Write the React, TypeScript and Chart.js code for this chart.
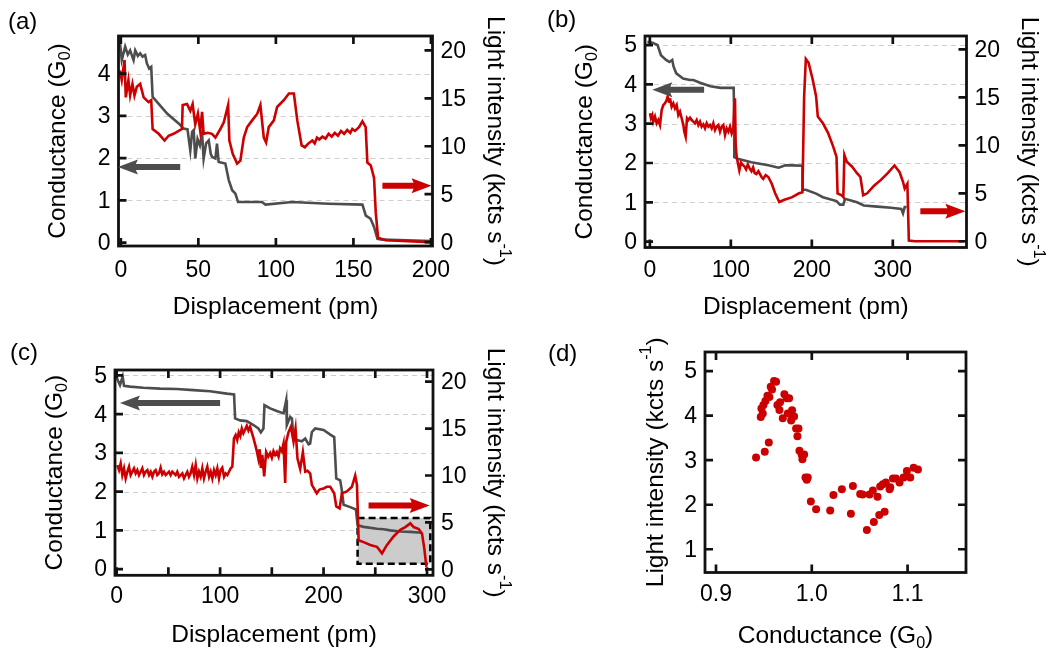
import React, { useEffect, useRef } from 'react';
import { Chart, registerables } from 'chart.js';
Chart.register(...registerables);

// ---------------- data: panel (a) ----------------
const aGrayX = [-0.6, 0.6, 2.8, 4.5, 6, 8.2, 9.3, 11, 12.5, 14, 15.7, 16.8, 18.3, 19.6, 20.5, 23.3, 30, 37.3, 40.5, 43, 44.8, 46, 47, 48, 49.5, 51, 52.4, 53.4, 55, 56.7, 58, 58.8, 61, 62, 63.1, 67.4, 69.6, 71.8, 73.9, 75.6, 91, 93.3, 110.5, 134, 155.8, 158, 161, 163.3, 165.5, 168.7, 200];
const aGrayG = [4.75, 4.32, 4.64, 4.45, 4.55, 4.32, 4.55, 4.42, 4.48, 4.40, 4.44, 4.24, 4.12, 4.16, 3.45, 3.33, 3.05, 2.82, 2.70, 2.68, 2.18, 2.62, 2.66, 1.99, 2.45, 2.30, 2.58, 1.99, 2.35, 2.42, 2.10, 2.03, 1.99, 2.34, 1.91, 1.87, 1.48, 1.24, 1.16, 0.96, 0.96, 0.90, 0.96, 0.92, 0.90, 0.64, 0.57, 0.37, 0.09, 0.07, 0.04];
const aRedX = [-0.6, 0.6, 2.4, 3.2, 4.9, 6, 7.5, 8.8, 10.3, 12.5, 14.7, 17.9, 19.6, 20.5, 24.4, 28.2, 30.8, 34, 37.3, 39.4, 39.9, 42.7, 44.8, 46.3, 48, 49.7, 51.2, 52.4, 53.4, 56, 58.8, 61, 64.2, 66.4, 69.2, 70, 72.2, 75, 77.1, 79.3, 81.5, 84.7, 88, 90, 92.2, 93.7, 95.4, 98.7, 100.8, 105.1, 108.4, 111.6, 113.8, 116.6, 118.7, 121, 123.5, 125, 126.5, 128, 130, 132, 134, 136, 138, 140, 142, 144, 146, 148, 149.3, 151, 153.6, 155.8, 157.9, 159, 161.2, 163.3, 164.4, 165.9, 170.9, 185, 198.9];
const aRedI = [17.9, 16.9, 19.0, 15.1, 16.9, 15.3, 16.5, 15.3, 16.2, 16.5, 15.1, 14.6, 14.8, 11.8, 11.3, 10.6, 11.1, 11.3, 11.6, 11.8, 14.3, 14.4, 13.7, 14.4, 12.3, 13.4, 11.6, 13.6, 11.3, 11.4, 11.3, 10.9, 11.8, 12.5, 14.3, 10.6, 9.2, 8.2, 8.5, 10.9, 12.0, 12.7, 13.4, 14.3, 10.9, 10.4, 12.0, 12.7, 14.1, 14.8, 15.5, 15.5, 12.7, 10.1, 9.9, 10.3, 10.6, 10.3, 10.9, 10.7, 11.0, 10.8, 11.3, 11.0, 11.4, 11.1, 11.6, 11.3, 11.7, 11.4, 11.8, 11.6, 12.0, 12.6, 12.0, 8.3, 8.0, 6.7, 3.1, 0.45, 0.2, 0.1, 0.0];
const aXTicks = [0, 50, 100, 150, 200];
const aXLabels = [0, 50, 100, 150, 200];
const aYTicks = [0, 1, 2, 3, 4];
const aY1Ticks = [0, 5, 10, 15, 20];
const aGrid = [1, 2, 3, 4];
const aArrowGray = [38.3, -1.9, 1.79]; // tail x, tip x, conductance
const aArrowRed = [168.7, 200.4, 5.88]; // tail x, tip x, intensity

// ---------------- data: panel (b) ----------------
const bGrayX = [-3, 3.2, 9.5, 13.7, 20, 24.2, 27.6, 29.3, 32.6, 41, 49.5, 53.7, 62, 74.7, 87.4, 103.5, 104, 104.3, 108.4, 125.3, 146.3, 159, 167.4, 175.8, 188.4, 188.6, 192.6, 205.3, 213.7, 230.5, 234.7, 238.9, 241, 255.8, 264.2, 281, 297.9, 310.5, 312.6, 314.7, 317];
const bGrayG = [5.08, 5.06, 5.0, 4.74, 4.62, 4.57, 4.62, 4.45, 4.28, 4.15, 4.11, 4.11, 4.04, 3.95, 3.91, 3.91, 3.34, 2.15, 2.11, 2.02, 1.94, 1.88, 1.94, 1.94, 1.93, 1.32, 1.32, 1.22, 1.13, 1.03, 0.94, 0.94, 1.09, 1.0, 0.92, 0.89, 0.86, 0.83, 0.72, 0.88, 0.88];
const bRedX = [0.17, 1.41, 3.06, 4.29, 6.35, 8.41, 10.46, 12.52, 14.58, 16.64, 18.7, 20.75, 21.99, 23.64, 24.87, 26.93, 28.99, 31.04, 33.1, 35.16, 37.22, 39.28, 41.33, 42.57, 44.22, 45.86, 47.51, 49.57, 51.62, 53.68, 55.74, 57.8, 59.86, 61.91, 63.97, 66.03, 68.09, 70.15, 72.2, 74.26, 76.32, 78.38, 80.44, 82.49, 84.55, 86.61, 88.67, 90.73, 92.78, 94.84, 96.9, 98.96, 101.0, 103.1, 104.3, 105.1, 106.0,
  107.2, 108.4, 110.5, 112.6, 114.5, 116.8, 118.8, 121, 123.2, 125.5, 127.5, 129.5, 131.5, 134, 137.9, 140, 143, 146.3, 150.5, 154.7, 159.8, 165.3, 175.8, 184.2, 188.4, 190.5, 192.6, 196, 201, 205.3, 207.4, 213.7, 220, 226.3, 230.5, 231.8, 236.8, 238.9, 240.2, 243.2, 249.5, 255.8, 260, 263.4, 268.4, 276.8, 285.3, 293.7, 302.1, 308.4, 312.6, 314.7, 318, 319.8, 327.4, 388];
const bRedI = [13.34, 12.82, 13.16, 12.47, 12.99, 12.3, 12.64, 12.12, 13.68, 14.2, 14.38, 14.73, 15.07, 14.55, 14.9, 14.03, 14.38, 13.86, 14.2, 13.16, 13.51, 12.82, 12.12, 11.43, 10.9, 12.82, 12.64, 12.88, 12.64, 12.47, 12.3, 12.64, 12.12, 12.47, 11.95, 12.19, 11.77, 12.3, 11.95, 12.12, 11.77, 12.3, 11.6, 11.95, 12.12, 11.43, 11.95, 12.12, 11.08, 11.77, 11.43, 11.95, 11.25, 11.77, 14.2, 14.9, 10.04,
  8.8, 8.3, 7.4, 8.2, 8.0, 7.8, 7.5, 8.0, 7.6, 7.3, 7.7, 7.1, 7.0, 7.3, 6.7, 6.5, 6.9, 6.7, 6.0, 5.0, 4.1, 4.3, 4.6, 5.0, 5.1, 15.1, 19.0, 18.6, 16.9, 15.1, 13.0, 12.3, 11.3, 9.9, 8.8, 5.0, 4.8, 4.6, 9.0, 8.3, 7.8, 7.1, 6.7, 4.8, 5.0, 5.8, 6.4, 7.1, 7.9, 7.2, 6.2, 5.5, 6.0, 0.07, 0.0, 0.0];
const bXTicks = [0, 100, 200, 300];
const bXLabels = [0, 100, 200, 300];
const bYTicks = [0, 1, 2, 3, 4, 5];
const bY1Ticks = [0, 5, 10, 15, 20];
const bGrid = [1, 2, 3, 4, 5];
const bArrowGray = [67, 3, 3.86];
const bArrowRed = [334, 389.6, 3.13];

// ---------------- data: panel (c) ----------------
const cGrayX = [-0.6, 1.6, 3.2, 5.8, 7.1, 12.9, 25.8, 41.9, 58, 74.2, 90.3, 106.5, 113.5, 114.5, 119.4, 125.8, 132.3, 137, 139.4, 141.9, 142.9, 148.4, 154.8, 161.3, 163.9, 164.5, 167.7, 169.4, 171, 174.2, 179, 182.3, 185.5, 187, 188.7, 191.9, 200, 206.5, 210.3, 212.3, 216.1, 217.7, 219.4, 225.8, 231.3, 232.9, 238.7, 251.6, 258, 264.5, 274.2, 283.9, 295.2];
const cGrayG = [5.0, 4.84, 4.75, 4.97, 4.73, 4.71, 4.68, 4.66, 4.65, 4.62, 4.59, 4.53, 4.51, 3.89, 3.84, 3.82, 3.72, 3.63, 3.53, 3.63, 4.23, 4.15, 4.08, 4.02, 4.36, 3.72, 3.93, 3.89, 3.37, 3.33, 3.30, 3.37, 3.22, 3.24, 3.54, 3.63, 3.59, 3.47, 3.41, 2.34, 2.29, 2.03, 1.66, 1.60, 1.54, 1.13, 1.09, 1.04, 1.03, 1.0, 0.97, 0.96, 0.94];
const cRedX = [0.65, 2.26, 3.87, 5.49, 7.1, 8.71, 10.32, 11.93, 13.54, 15.15, 16.76, 18.37, 19.98, 21.6, 23.2, 24.8, 26.4, 28.0, 29.7, 31.3, 32.9, 34.5, 36.1, 37.7, 39.3, 40.9, 42.5, 44.1, 45.8, 47.4, 49.0, 50.6, 52.2, 53.8, 55.4, 57.0, 58.6, 60.3, 61.9, 63.5, 65.1, 66.7, 68.3, 69.9, 71.5, 73.1, 74.8, 76.4, 78.0, 79.6, 81.2, 82.8, 84.4, 86.0, 87.6, 89.3, 90.9, 92.5, 94.1, 95.7, 97.3, 98.9, 100.5, 102.1, 103.8, 105.4, 107.0, 108.6, 110.2, 111.8,
  113.4, 115, 116.5, 118, 119.5, 121, 122.5, 124.2, 125.8, 127.4, 129, 130.6, 132, 133.9, 135.5, 137, 138.2, 139.4, 140.8, 142.6, 144.5, 146.5, 148.4, 150, 151.6, 153.2, 154.8, 156.5, 158, 159.6, 161.3, 162.9, 163.9, 166.1, 168.4, 171, 172.9, 174.8, 177.4, 180, 182.3, 184.5, 187.1, 188.7, 191.9, 193.5, 196, 200, 203, 206.5, 210.3, 212.3, 215.5, 217.7, 222.6, 227.4, 230.6, 232.3, 233.9, 238.7, 245.2, 251.6, 256.5, 261.3, 267.7, 274.2, 279, 283.9, 287.1, 292, 295.2, 297.4, 299.4];
const cRedI = [11.11, 10.58, 11.29, 10.05, 10.76, 9.69, 10.40, 10.94, 10.05, 10.40, 10.76, 10.23, 10.58, 10.05, 10.40, 10.76, 10.05, 10.40, 10.58, 10.05, 10.40, 9.87, 10.40, 10.58, 10.05, 10.23, 10.83, 10.12, 10.40, 10.05, 10.23, 10.40, 10.05, 10.40, 10.23, 10.05, 10.40, 9.87, 10.05, 10.23, 9.69, 10.05, 10.40, 9.87, 10.23, 10.94, 10.05, 11.11, 9.69, 10.40, 9.87, 10.76, 9.69, 10.40, 10.94, 9.87, 10.40, 9.69, 10.58, 10.05, 10.76, 9.69, 10.58, 10.83, 9.87, 10.23, 10.05, 10.40, 10.76, 10.94,
  13.96, 14.3, 13.8, 14.6, 14.2, 15.0, 14.5, 14.9, 15.3, 14.8, 15.2, 14.6, 14.1, 13.3, 12.6, 11.8, 12.8, 10.8, 12.2, 9.9, 12.5, 12.0, 12.4, 11.9, 12.6, 12.2, 12.5, 12.0, 12.9, 12.6, 13.4, 9.2, 13.6, 14.6, 15.2, 13.6, 15.0, 11.8, 10.7, 12.5, 10.4, 10.5, 10.2, 9.0, 8.4, 8.1, 8.5, 8.6, 8.8, 8.8, 8.1, 6.7, 6.5, 8.1, 8.3, 8.8, 10.0, 9.0, 3.1, 2.9, 2.6, 2.4, 1.7, 2.6, 3.5, 4.2, 4.5, 4.9, 4.5, 4.3, 3.8, 2.2, 0.25];
const cXTicks = [0, 50, 100, 150, 200, 250, 300];
const cXLabels = [0, 100, 200, 300];
const cYTicks = [0, 1, 2, 3, 4, 5];
const cY1Ticks = [0, 5, 10, 15, 20];
const cGrid = [1, 2, 3, 4, 5];
const cArrowGray = [100, 3.2, 4.29];
const cArrowRed = [243.5, 302.6, 6.8];
const cBox = [232.9, 303.2, 0.14, 1.32]; // x1, x2, G1, G2

// ---------------- data: panel (d) ----------------
const dCond = [0.9418, 0.9509, 0.9551, 0.9467, 0.9488, 0.9474, 0.9495, 0.9516, 0.9537, 0.9557, 0.9571, 0.9585, 0.9606, 0.9627, 0.9641, 0.9669, 0.9662, 0.9697, 0.9714, 0.9739, 0.9763, 0.9749, 0.9794, 0.9784, 0.9815, 0.9836, 0.9861, 0.985, 0.9871, 0.9895, 0.9902, 0.992, 0.9934, 0.9948, 0.9958, 0.999, 1.0045, 1.0192, 1.0226, 1.0314, 1.0408, 1.0429, 1.0505, 1.053, 1.0575, 1.0603, 1.0638, 1.0648, 1.0686, 1.0704, 1.0714, 1.076, 1.0742, 1.0773, 1.0812, 1.0819, 1.0847, 1.0878, 1.0916, 1.0958, 1.0993, 1.1028, 1.1063, 1.1108];
const dInt = [3.06, 3.19, 3.40, 3.97, 4.05, 4.16, 4.24, 4.33, 4.45, 4.42, 4.65, 4.59, 4.78, 4.76, 4.24, 4.30, 4.13, 3.94, 4.48, 4.39, 4.39, 4.05, 4.12, 3.89, 3.98, 3.71, 3.71, 3.54, 3.21, 3.12, 3.02, 3.13, 2.61, 2.56, 2.61, 2.07, 1.90, 1.87, 2.22, 2.35, 1.80, 2.42, 2.24, 2.23, 1.43, 2.23, 2.32, 1.61, 2.18, 1.77, 2.41, 1.84, 2.46, 2.50, 2.35, 2.39, 2.59, 2.59, 2.50, 2.61, 2.76, 2.61, 2.83, 2.79];
const dXTicks = [0.9, 1.0, 1.1];
const dXLabels = [0.9, 1.0, 1.1];
const dYTicks = [1, 2, 3, 4, 5];

// ---------------- styling / layout ----------------
const W = 1053;
const H = 651;
const FONT = '"Liberation Sans", Arial, Helvetica, sans-serif';
const TICK_FS = 23;
const TITLE_FS = 24.5;
const GRAY = '#4d4d4d';
const RED = '#cc0000';

type Seg = { t: string; sub?: boolean; sup?: boolean };
const condTitle: Seg[] = [{ t: 'Conductance (G' }, { t: '0', sub: true }, { t: ')' }];
const lightTitle: Seg[] = [{ t: 'Light intensity (kcts s' }, { t: '-1', sup: true }, { t: ')' }];
const dispTitle: Seg[] = [{ t: 'Displacement (pm)' }];

function pts(xs: number[], ys: number[]) {
  return xs.map((x, i) => ({ x, y: ys[i] }));
}

function drawRich(ctx: CanvasRenderingContext2D, segs: Seg[], x: number, y: number, rot: number, size: number) {
  ctx.save();
  ctx.translate(x, y);
  ctx.rotate(rot);
  ctx.textAlign = 'left';
  ctx.textBaseline = 'alphabetic';
  ctx.fillStyle = '#000';
  const parts = segs.map((s) => {
    const fs = s.sub || s.sup ? size * 0.66 : size;
    ctx.font = `${fs}px ${FONT}`;
    return { ...s, fs, w: ctx.measureText(s.t).width };
  });
  const total = parts.reduce((a, p) => a + p.w, 0);
  let cx = -total / 2;
  const base = size * 0.36;
  for (const p of parts) {
    ctx.font = `${p.fs}px ${FONT}`;
    const dy = p.sub ? size * 0.2 : p.sup ? -size * 0.5 : 0;
    ctx.fillText(p.t, cx, base + dy);
    cx += p.w;
  }
  ctx.restore();
}

function drawArrow(ctx: CanvasRenderingContext2D, x1: number, x2: number, y: number, color: string) {
  const dir = x2 > x1 ? 1 : -1;
  const HL = 20, HH = 7.5, SW = 6, NOTCH = 2;
  const hb = x2 - dir * HL;
  ctx.save();
  ctx.fillStyle = color;
  ctx.beginPath();
  ctx.moveTo(x1, y - SW / 2);
  ctx.lineTo(hb + dir * NOTCH, y - SW / 2);
  ctx.lineTo(hb, y - HH);
  ctx.lineTo(x2, y);
  ctx.lineTo(hb, y + HH);
  ctx.lineTo(hb + dir * NOTCH, y + SW / 2);
  ctx.lineTo(x1, y + SW / 2);
  ctx.closePath();
  ctx.fill();
  ctx.restore();
}

type Axis = { min: number; max: number; ticks: number[]; labels: number[]; fmt?: (v: number) => string };
type Arrow = { v: number[]; axis: 'y' | 'y1'; color: string };
type Spec = {
  area: { l: number; t: number; r: number; b: number };
  x: Axis;
  y: Axis;
  y1?: Axis;
  yMirror?: boolean;
  grid: number[];
  datasets: any[];
  arrows: Arrow[];
  box?: number[];
  xTitle: Seg[];
  yTitle: Seg[];
  y1Title?: Seg[];
  yTitleOff: number;
  y1TitleOff: number;
  xTitleY: number;
  xLabelY: number;
  letter: string;
  letterX: number;
  letterY: number;
};

function makeDecor(spec: Spec) {
  return {
    id: 'decor',
    beforeDatasetsDraw(chart: any) {
      const { ctx, chartArea: ca, scales } = chart;
      ctx.save();
      ctx.strokeStyle = '#cfcfcf';
      ctx.lineWidth = 1;
      ctx.setLineDash([5, 4]);
      for (const v of spec.grid) {
        const py = Math.round(scales.y.getPixelForValue(v)) + 0.5;
        ctx.beginPath();
        ctx.moveTo(ca.left, py);
        ctx.lineTo(ca.right, py);
        ctx.stroke();
      }
      ctx.restore();
      if (spec.box) {
        const [bx1, bx2, by1, by2] = spec.box;
        const px1 = scales.x.getPixelForValue(bx1);
        const px2 = scales.x.getPixelForValue(bx2);
        const py1 = scales.y.getPixelForValue(by2);
        const py2 = scales.y.getPixelForValue(by1);
        ctx.save();
        ctx.fillStyle = '#cccccc';
        ctx.fillRect(px1, py1, px2 - px1, py2 - py1);
        ctx.strokeStyle = '#000';
        ctx.lineWidth = 2.5;
        ctx.setLineDash([7, 4]);
        ctx.strokeRect(px1, py1, px2 - px1, py2 - py1);
        ctx.restore();
      }
    },
    afterDatasetsDraw(chart: any) {
      const { ctx, chartArea: ca, scales } = chart;
      const TL = 8;
      ctx.save();
      ctx.strokeStyle = '#111';
      ctx.lineWidth = 2.7;
      ctx.setLineDash([]);
      ctx.beginPath();
      for (const v of spec.x.ticks) {
        const px = scales.x.getPixelForValue(v);
        ctx.moveTo(px, ca.bottom);
        ctx.lineTo(px, ca.bottom - TL);
        ctx.moveTo(px, ca.top);
        ctx.lineTo(px, ca.top + TL);
      }
      for (const v of spec.y.ticks) {
        const py = scales.y.getPixelForValue(v);
        ctx.moveTo(ca.left, py);
        ctx.lineTo(ca.left + TL, py);
        if (spec.yMirror) {
          ctx.moveTo(ca.right, py);
          ctx.lineTo(ca.right - TL, py);
        }
      }
      if (spec.y1) {
        for (const v of spec.y1.ticks) {
          const py = scales.y1.getPixelForValue(v);
          ctx.moveTo(ca.right, py);
          ctx.lineTo(ca.right - TL, py);
        }
      }
      ctx.stroke();
      ctx.lineWidth = 2.8;
      ctx.strokeRect(ca.left, ca.top, ca.right - ca.left, ca.bottom - ca.top);
      ctx.restore();

      for (const a of spec.arrows) {
        const sc = scales[a.axis];
        drawArrow(ctx, scales.x.getPixelForValue(a.v[0]), scales.x.getPixelForValue(a.v[1]), sc.getPixelForValue(a.v[2]), a.color);
      }

      ctx.save();
      ctx.fillStyle = '#000';
      ctx.font = `${TICK_FS}px ${FONT}`;
      ctx.textBaseline = 'middle';
      ctx.textAlign = 'center';
      const fx = spec.x.fmt || ((v: number) => String(v));
      for (const v of spec.x.labels) {
        ctx.fillText(fx(v), scales.x.getPixelForValue(v), spec.xLabelY);
      }
      ctx.textAlign = 'right';
      const fy = spec.y.fmt || ((v: number) => String(v));
      for (const v of spec.y.labels) {
        ctx.fillText(fy(v), ca.left - 8, scales.y.getPixelForValue(v) + 1);
      }
      if (spec.y1) {
        ctx.textAlign = 'left';
        for (const v of spec.y1.labels) {
          ctx.fillText(String(v), ca.right + 8, scales.y1.getPixelForValue(v) + 1);
        }
      }
      ctx.restore();

      const cy = (ca.top + ca.bottom) / 2;
      drawRich(ctx, spec.xTitle, (ca.left + ca.right) / 2, spec.xTitleY, 0, TITLE_FS);
      drawRich(ctx, spec.yTitle, ca.left - spec.yTitleOff, cy, -Math.PI / 2, TITLE_FS);
      if (spec.y1Title) drawRich(ctx, spec.y1Title, ca.right + spec.y1TitleOff, cy, Math.PI / 2, TITLE_FS);

      ctx.save();
      ctx.fillStyle = '#000';
      ctx.font = `24px ${FONT}`;
      ctx.textAlign = 'left';
      ctx.textBaseline = 'middle';
      ctx.fillText(spec.letter, spec.letterX, spec.letterY);
      ctx.restore();
    },
  };
}

function buildConfig(spec: Spec): any {
  const scales: any = {
    x: { type: 'linear', min: spec.x.min, max: spec.x.max, display: false },
    y: { type: 'linear', position: 'left', min: spec.y.min, max: spec.y.max, display: false },
  };
  if (spec.y1) scales.y1 = { type: 'linear', position: 'right', min: spec.y1.min, max: spec.y1.max, display: false };
  return {
    type: 'scatter',
    data: { datasets: spec.datasets },
    options: {
      animation: false,
      responsive: false,
      events: [],
      layout: { padding: { left: spec.area.l, top: spec.area.t, right: W - spec.area.r, bottom: H - spec.area.b } },
      plugins: { legend: { display: false }, tooltip: { enabled: false } },
      scales,
    },
    plugins: [makeDecor(spec)],
  };
}

function lineDs(xs: number[], ys: number[], color: string, axis: string) {
  return { data: pts(xs, ys), showLine: true, borderColor: color, borderWidth: 2.6, pointRadius: 0, yAxisID: axis, tension: 0, fill: false, borderJoinStyle: 'miter' };
}

const specA: Spec = {
  area: { l: 118.5, t: 36, r: 432.5, b: 246 },
  x: { min: -1.5, max: 201, ticks: aXTicks, labels: aXLabels },
  y: { min: -0.08, max: 4.89, ticks: aYTicks, labels: aYTicks },
  y1: { min: -0.4, max: 21.5, ticks: aY1Ticks, labels: aY1Ticks },
  grid: aGrid,
  datasets: [lineDs(aRedX, aRedI, RED, 'y1'), lineDs(aGrayX, aGrayG, GRAY, 'y')],
  arrows: [
    { v: aArrowGray, axis: 'y', color: GRAY },
    { v: aArrowRed, axis: 'y1', color: RED },
  ],
  xTitle: dispTitle, yTitle: condTitle, y1Title: lightTitle,
  yTitleOff: 62, y1TitleOff: 64, xTitleY: 305, xLabelY: 271,
  letter: '(a)', letterX: 8, letterY: 22,
};

const specB: Spec = {
  area: { l: 645, t: 36, r: 966.5, b: 247.5 },
  x: { min: -6, max: 391, ticks: bXTicks, labels: bXLabels },
  y: { min: -0.15, max: 5.23, ticks: bYTicks, labels: bYTicks },
  y1: { min: -0.65, max: 21.4, ticks: bY1Ticks, labels: bY1Ticks },
  grid: bGrid,
  datasets: [lineDs(bRedX, bRedI, RED, 'y1'), lineDs(bGrayX, bGrayG, GRAY, 'y')],
  arrows: [
    { v: bArrowGray, axis: 'y', color: GRAY },
    { v: bArrowRed, axis: 'y1', color: RED },
  ],
  xTitle: dispTitle, yTitle: condTitle, y1Title: lightTitle,
  yTitleOff: 62, y1TitleOff: 64, xTitleY: 305, xLabelY: 271,
  letter: '(b)', letterX: 547, letterY: 20,
};

const specC: Spec = {
  area: { l: 115, t: 370, r: 433, b: 575.3 },
  x: { min: -1.6, max: 305.8, ticks: cXTicks, labels: cXLabels },
  y: { min: -0.16, max: 5.14, ticks: cYTicks, labels: cYTicks },
  y1: { min: -0.64, max: 21.25, ticks: cY1Ticks, labels: cY1Ticks },
  grid: cGrid,
  datasets: [lineDs(cRedX, cRedI, RED, 'y1'), lineDs(cGrayX, cGrayG, GRAY, 'y')],
  arrows: [
    { v: cArrowGray, axis: 'y', color: GRAY },
    { v: cArrowRed, axis: 'y1', color: RED },
  ],
  box: cBox,
  xTitle: dispTitle, yTitle: condTitle, y1Title: lightTitle,
  yTitleOff: 62, y1TitleOff: 64, xTitleY: 633, xLabelY: 597,
  letter: '(c)', letterX: 10, letterY: 353,
};

const specD: Spec = {
  area: { l: 705, t: 352, r: 966, b: 572.5 },
  x: { min: 0.8885, max: 1.161, ticks: dXTicks, labels: dXLabels, fmt: (v) => v.toFixed(1) },
  y: { min: 0.478, max: 5.43, ticks: dYTicks, labels: dYTicks },
  yMirror: true,
  grid: [],
  datasets: [{ data: pts(dCond, dInt), backgroundColor: RED, borderWidth: 0, pointRadius: 4, yAxisID: 'y' }],
  arrows: [],
  xTitle: [{ t: 'Conductance (G' }, { t: '0', sub: true }, { t: ')' }],
  yTitle: lightTitle,
  yTitleOff: 51, y1TitleOff: 0, xTitleY: 634, xLabelY: 595,
  letter: '(d)', letterX: 548, letterY: 354,
};

function Panel({ spec }: { spec: Spec }) {
  const ref = useRef<HTMLCanvasElement>(null);
  useEffect(() => {
    const chart = new Chart(ref.current as HTMLCanvasElement, buildConfig(spec));
    return () => chart.destroy();
  }, [spec]);
  return <canvas ref={ref} width={W} height={H} style={{ position: 'absolute', left: 0, top: 0, width: W, height: H }} />;
}

export default function App() {
  return (
    <div style={{ position: 'fixed', left: 0, top: 0, width: W, height: H, background: '#fff', overflow: 'hidden' }}>
      <Panel spec={specA} />
      <Panel spec={specB} />
      <Panel spec={specC} />
      <Panel spec={specD} />
    </div>
  );
}
